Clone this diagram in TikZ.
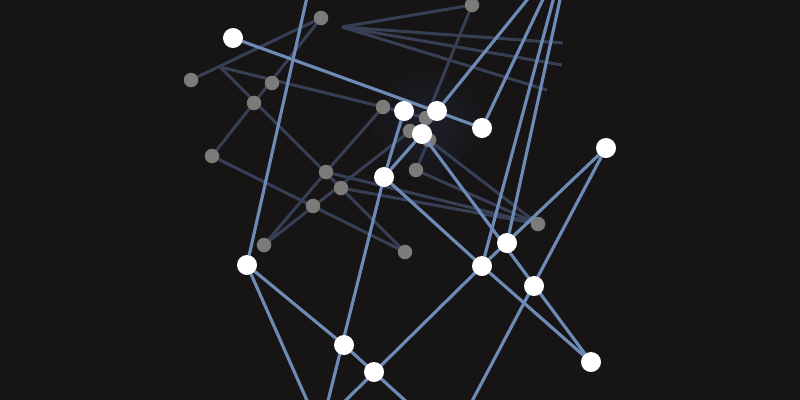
\documentclass[tikz,border=0pt]{standalone}
\usepackage{tikz}
\usepackage{xcolor}
\definecolor{nightbg}{RGB}{22,20,20}
\definecolor{glow}{RGB}{29,31,44}
\definecolor{linkblue}{RGB}{110,138,182}
\definecolor{linkgray}{RGB}{54,63,84}
\definecolor{fardot}{RGB}{125,122,122}
\pgfdeclarelayer{bg}
\pgfdeclarelayer{farlinks}
\pgfdeclarelayer{farnodes}
\pgfdeclarelayer{nearlinks}
\pgfsetlayers{bg,farlinks,farnodes,nearlinks,main}

\begin{document}
\begin{tikzpicture}[x=0.01cm,y=-0.01cm]
\tikzstyle{every node}=[circle,inner sep=0pt,outer sep=0pt]
\tikzstyle{near}=[minimum size=0.2cm,fill=white]
\tikzstyle{far}=[minimum size=0.145cm,fill=fardot]
\tikzstyle{nearlink}=[color=linkblue,line width=0.9pt]
\tikzstyle{farlink}=[color=linkgray,line width=0.85pt]
\useasboundingbox (0,0) rectangle (800,400);
\begin{pgfonlayer}{bg}
\fill[nightbg] (0,0) rectangle (800,400);
\fill[inner color=glow,outer color=nightbg] (428,122) circle [radius=0.6cm];
\end{pgfonlayer}

\begin{pgfonlayer}{farnodes}
\node[far] (g1) at (321,18) {};
\node[far] (g2) at (472,5) {};
\node[far] (g3) at (191,80) {};
\node[far] (g4) at (272,83) {};
\node[far] (g5) at (254,103) {};
\node[far] (g6) at (383,107) {};
\node[far] (g7) at (212,156) {};
\node[far] (g8) at (326,172) {};
\node[far] (g9) at (341,188) {};
\node[far] (g10) at (313,206) {};
\node[far] (g11) at (416,170) {};
\node[far] (g12) at (538,224) {};
\node[far] (g13) at (264,245) {};
\node[far] (g14) at (405,252) {};
\node[far] (h1) at (426,118) {};
\node[far] (h2) at (410,131) {};
\node[far] (h3) at (429,140) {};
\end{pgfonlayer}
\coordinate (fork) at (220,67);
\coordinate (hub) at (342,27);
\coordinate (e1) at (563,43);
\coordinate (e2) at (562,65);
\coordinate (e3) at (547,90);

\node[near] (w1) at (233,38) {};
\node[near] (w2) at (404,111) {};
\node[near] (w3) at (437,111) {};
\node[near] (w4) at (422,134) {};
\node[near] (w5) at (482,128) {};
\node[near] (w6) at (384,177) {};
\node[near] (w7) at (606,148) {};
\node[near] (w8) at (507,243) {};
\node[near] (w9) at (482,266) {};
\node[near] (w10) at (534,286) {};
\node[near] (w11) at (247,265) {};
\node[near] (w12) at (344,345) {};
\node[near] (w13) at (374,372) {};
\node[near] (w14) at (591,362) {};
\coordinate (top0) at (307.5,-5);
\coordinate (top1) at (531,-5);
\coordinate (top2) at (545,-5);
\coordinate (top3) at (554.5,-5);
\coordinate (top4) at (561,-5);
\coordinate (bot1) at (309,405);
\coordinate (bot2) at (327,405);
\coordinate (bot3) at (341,405);
\coordinate (bot4) at (410,405);
\coordinate (bot5) at (470,405);

\begin{pgfonlayer}{farlinks}
\path[farlink] (g3) edge (g1) (g1) edge (g7) (fork) edge (g14)
  (fork) edge (g6) (g6) edge (h1) (g7) edge (g14)
  (g13) edge (g8) (g13) edge (h2) (g8) edge (g6)
  (g8) edge (g12) (g9) edge (g12) (g11) edge (g12)
  (g11) edge (h3) (h3) edge (g12)
  (g2) edge (hub) (g2) edge (h1)
  (hub) edge (e1) (hub) edge (e2) (hub) edge (e3);
\end{pgfonlayer}

\begin{pgfonlayer}{nearlinks}
\path[nearlink] (top0) edge (w11) (w1) edge (w5)
  (top1) edge (w3) (top2) edge (w5) (top3) edge (w9) (top4) edge (w8)
  (w2) edge (w6) (w4) edge (w6) (w6) edge (bot2) (w6) edge (w9)
  (w4) edge (w14) (w9) edge (w14) (w9) edge (bot3) (w9) edge (w7)
  (w7) edge (bot5) (w11) edge (w12) (w11) edge (bot1) (w12) edge (bot4);
\end{pgfonlayer}
\end{tikzpicture}
\end{document}
